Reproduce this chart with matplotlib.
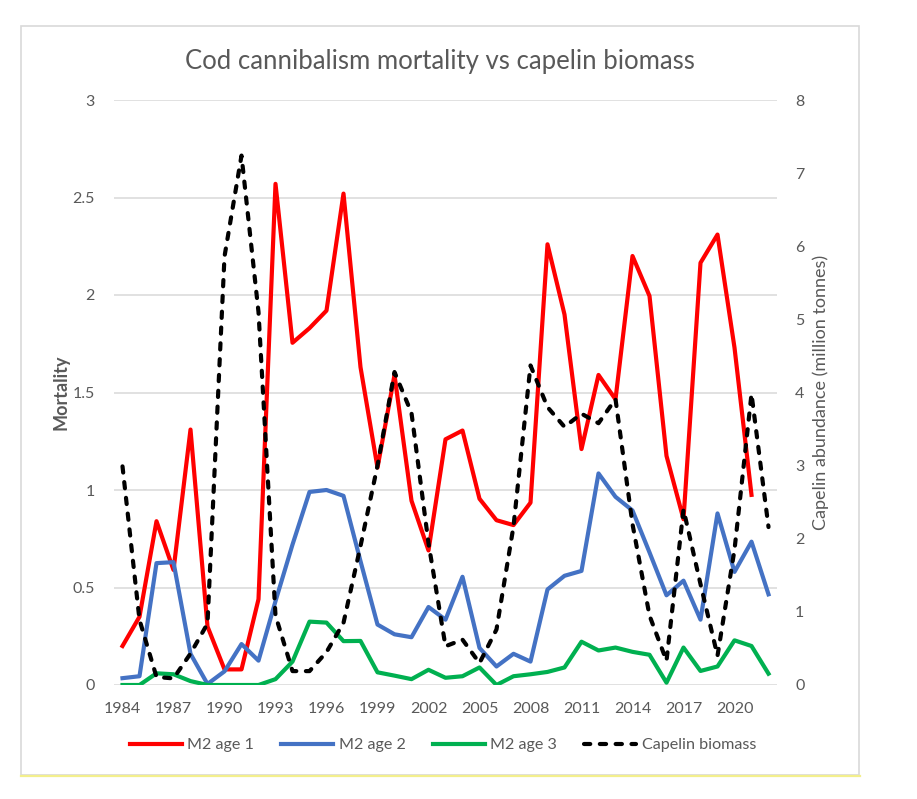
import numpy as np
import matplotlib
matplotlib.use('Agg')
import matplotlib.pyplot as plt
from matplotlib.lines import Line2D
from matplotlib.patches import Rectangle

plt.rcParams['font.family'] = ['Lato', 'DejaVu Sans']

# Values
years = list(range(1984, 2023))
m2_age1 = [0.20, 0.35, 0.84, 0.59, 1.31, 0.30, 0.08, 0.08, 0.44, 2.57,
           1.755, 1.83, 1.92, 2.52, 1.63, 1.115, 1.59, 0.945, 0.69, 1.26,
           1.305, 0.955, 0.845, 0.82, 0.935, 2.26, 1.90, 1.21, 1.59, 1.465,
           2.20, 1.995, 1.175, 0.85, 2.165, 2.31, 1.73, 0.975, np.nan]
m2_age2 = [0.035, 0.045, 0.625, 0.63, 0.16, 0.005, 0.07, 0.21, 0.125, 0.43,
           0.72, 0.99, 1.0, 0.97, 0.635, 0.31, 0.26, 0.245, 0.40, 0.335,
           0.555, 0.19, 0.095, 0.16, 0.12, 0.49, 0.56, 0.585, 1.085, 0.965,
           0.895, 0.68, 0.46, 0.535, 0.335, 0.88, 0.58, 0.735, 0.465]
m2_age3 = [0.0, 0.0, 0.06, 0.055, 0.02, 0.0, 0.0, 0.0, 0.0, 0.03,
           0.12, 0.325, 0.32, 0.225, 0.226, 0.065, 0.048, 0.03, 0.078, 0.037,
           0.045, 0.09, 0.0, 0.045, 0.055, 0.067, 0.09, 0.222, 0.177, 0.192,
           0.17, 0.155, 0.012, 0.192, 0.072, 0.095, 0.229, 0.2, 0.058]
capelin = [2.99, 0.89, 0.11, 0.09, 0.43, 0.84, 5.86, 7.24, 5.1, 0.95,
           0.19, 0.19, 0.45, 0.85, 1.9, 3.0, 4.28, 3.72, 1.94, 0.53,
           0.62, 0.30, 0.76, 2.17, 4.37, 3.80, 3.53, 3.71, 3.58, 3.91,
           2.2, 0.95, 0.33, 2.40, 1.38, 0.40, 1.85, 3.98, 2.16]

W, H = 917, 799
TXT = '#595959'
GRID = '#d9d9d9'

fig = plt.figure(figsize=(W / 100, H / 100), dpi=100)

# chart frame
fig.patches.append(Rectangle((21 / W, 1 - 775 / H), (859 - 21) / W, (775 - 26) / H,
                             transform=fig.transFigure, fill=False,
                             edgecolor=GRID, linewidth=1.2))
fig.lines.append(Line2D([21 / W, 860 / W], [1 - 776 / H, 1 - 776 / H],
                        transform=fig.transFigure, color='#f3ef8c', linewidth=1.6))

left, right, top, bottom = 114, 777, 100, 685
ax = fig.add_axes([left / W, 1 - bottom / H, (right - left) / W, (bottom - top) / H])
ax2 = ax.twinx()

x = np.arange(len(years))
lw = 3.0
ax.plot(x, m2_age1, color='#ff0000', lw=lw, label='M2 age 1', zorder=3)
ax.plot(x, m2_age2, color='#4472c4', lw=lw, label='M2 age 2', zorder=3)
ax.plot(x, m2_age3, color='#00b050', lw=lw, label='M2 age 3', zorder=3)
ax2.plot(x, capelin, color='black', lw=lw, linestyle=(0, (1.5, 2.3)),
         dash_capstyle='round', label='Capelin biomass', zorder=3)

ax.set_xlim(-0.5, len(years) - 0.5)
ax.set_ylim(0, 3)
ax2.set_ylim(0, 8)
ax.set_yticks(np.arange(0, 3.01, 0.5))
ax.set_yticklabels(['0', '0.5', '1', '1.5', '2', '2.5', '3'])
ax2.set_yticks(range(0, 9))
ax.set_xticks(x[::3])
ax.set_xticklabels([str(y) for y in years[::3]])

ax.grid(axis='y', color=GRID, linewidth=1.1)
ax.set_axisbelow(True)
for a in (ax, ax2):
    for s in a.spines.values():
        s.set_visible(False)
    a.tick_params(length=0, colors=TXT, labelsize=11.5)
ax.tick_params(axis='y', pad=14)
ax2.tick_params(axis='y', pad=13)
ax.tick_params(axis='x', pad=12)

# axis titles placed directly in figure pixels
fig.text(61 / W, 1 - 392 / H, 'Mortality', rotation=90, ha='center', va='center',
         color=TXT, fontsize=13, fontweight='bold')
fig.text(821 / W, 1 - 392 / H, 'Capelin abundance (million tonnes)', rotation=90,
         ha='center', va='center', color=TXT, fontsize=13)

fig.text(440 / W, 1 - 62 / H, 'Cod cannibalism mortality vs capelin biomass',
         ha='center', va='center', color=TXT, fontsize=18.5)

h1, l1 = ax.get_legend_handles_labels()
h2, l2 = ax2.get_legend_handles_labels()
fig.legend(h1 + h2, l1 + l2, loc='center', bbox_to_anchor=(443 / W, 1 - 745 / H),
           ncol=4, frameon=False, fontsize=11.6, labelcolor=TXT,
           handlelength=3.2, handletextpad=0.35, columnspacing=1.7)

fig.savefig('out.png', dpi=100)
